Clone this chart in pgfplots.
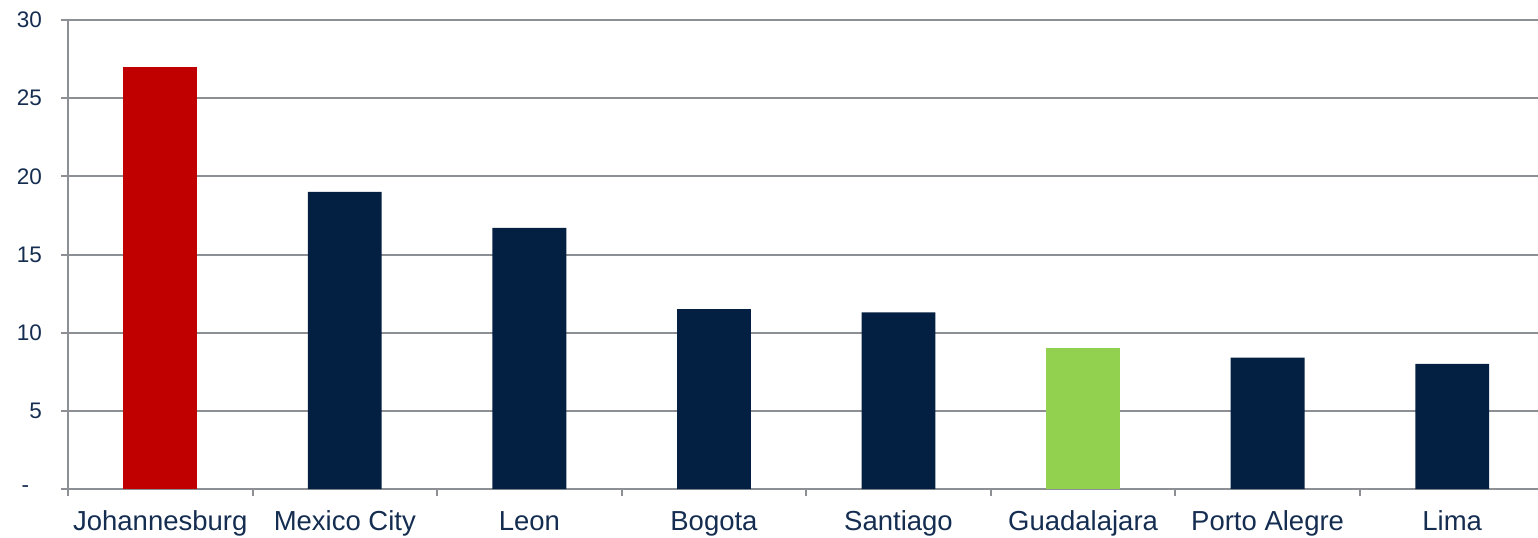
\documentclass[border=0pt]{standalone}
\usepackage{pgfplots}
\pgfplotsset{compat=1.18}
\usepackage{fontspec}
\setmainfont{Liberation Sans}
\usetikzlibrary{calc}
\definecolor{navy}{RGB}{3,32,66}
\definecolor{barred}{RGB}{192,0,0}
\definecolor{bargreen}{RGB}{146,208,80}
\definecolor{gridgray}{RGB}{140,144,148}
\definecolor{labelblue}{RGB}{20,45,80}
\begin{document}
\begin{tikzpicture}
\begin{axis}[
  scale only axis, width=735pt, height=234.5pt,
  xmin=-0.5, xmax=7.465, ymin=0, ymax=30,
  axis lines*=left,
  axis line style={draw=gridgray, line width=1pt},
  ytick={0,5,...,30}, yticklabels={\makebox[10.2pt][l]{-},5,10,15,20,25,30},
  ymajorgrids, grid style={gridgray, line width=1pt},
  xtick={-0.5,0.5,...,6.5}, xticklabels={},
  extra x ticks={0,1,2,3,4,5,6,7},
  extra x tick labels={Johannesburg,Mexico City,Leon,Bogota,Santiago,Guadalajara,Porto Alegre,Lima},
  extra x tick style={major tick length=0pt, grid=none},
  tick align=outside, major tick length=3.5pt,
  tick style={gridgray, line width=1pt},
  /pgf/number format/assume math mode=true,
  xticklabel style={font=\fontsize{13.75}{16}\selectfont, text=labelblue, anchor=base, yshift=-20.5pt},
  yticklabel style={font=\fontsize{11.25}{13}\selectfont, text=labelblue, xshift=-6pt},
  ybar, bar width=0.4,
]
\addplot[bar shift=0pt, fill=barred, draw=none] coordinates {(0,27.0)};
\addplot[bar shift=0pt, fill=navy, draw=none] coordinates {(1,19.0) (2,16.7) (3,11.5) (4,11.3) (6,8.4) (7,8.0)};
\addplot[bar shift=0pt, fill=bargreen, draw=none] coordinates {(5,9.0)};
\end{axis}
\pgfresetboundingbox
\path[use as bounding box] ($(current axis.south west)+(-34pt,-24pt)$) rectangle ($(current axis.north east)+(0pt,10pt)$);
\end{tikzpicture}
\end{document}
